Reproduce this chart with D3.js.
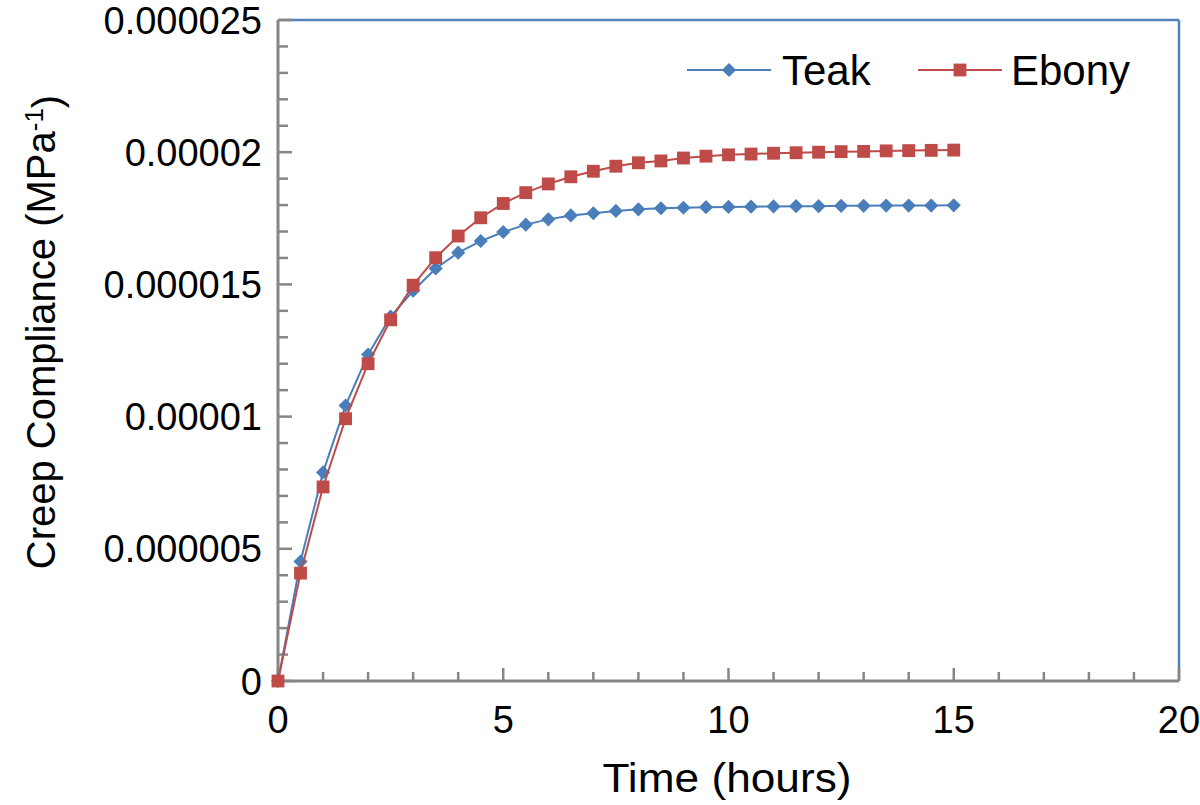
<!DOCTYPE html>
<html>
<head>
  <title>Creep Compliance</title>
  <style>
    body { margin: 0; background: #fff; }
    svg text { font-family: "Liberation Sans", Arial, Helvetica, sans-serif; fill: #000; }
  </style>
  <script src="https://d3js.org/d3.v7.min.js"></script>
</head>
<body>
  <div id="chart"></div>
  <script>
    // time in hours, compliance in MPa^-1
    var hours = [0, 0.5, 1, 1.5, 2, 2.5, 3, 3.5, 4, 4.5, 5, 5.5, 6, 6.5, 7, 7.5,
                 8, 8.5, 9, 9.5, 10, 10.5, 11, 11.5, 12, 12.5, 13, 13.5, 14, 14.5, 15];
    var teak = [0, 4.52, 7.89, 10.42, 12.35, 13.78, 14.76, 15.6, 16.2, 16.64, 16.98, 17.26,
                17.46, 17.61, 17.69, 17.78, 17.84, 17.88, 17.9, 17.92, 17.93, 17.94, 17.95,
                17.96, 17.96, 17.97, 17.97, 17.98, 17.98, 17.98, 17.99].map(function(v) { return v * 1e-6; });
    var ebony = [0, 4.08, 7.34, 9.92, 12.0, 13.66, 14.97, 16.01, 16.83, 17.52, 18.06, 18.47,
                 18.8, 19.07, 19.28, 19.47, 19.6, 19.67, 19.78, 19.85, 19.9, 19.93, 19.96,
                 19.98, 20.0, 20.02, 20.03, 20.05, 20.06, 20.07, 20.08].map(function(v) { return v * 1e-6; });
    var yTickLabels = ["0", "0.000005", "0.00001", "0.000015", "0.00002", "0.000025"];
    var xTickLabels = ["0", "5", "10", "15", "20"];

    var width = 1200, height = 805;
    var margin = { left: 278, right: 21, top: 20, bottom: 124 };
    var plotW = width - margin.left - margin.right;
    var plotH = height - margin.top - margin.bottom;

    var svg = d3.select("#chart").append("svg")
      .attr("width", width)
      .attr("height", height);

    var g = svg.append("g")
      .attr("transform", "translate(" + margin.left + "," + margin.top + ")");

    var x = d3.scaleLinear().domain([0, 20]).range([0, plotW]);
    var y = d3.scaleLinear().domain([0, 0.000025]).range([plotH, 0]);

    // blue frame on top and right
    g.append("line").attr("x1", 0).attr("x2", plotW).attr("y1", 0).attr("y2", 0)
      .attr("stroke", "#4f81bd").attr("stroke-width", 2.5);
    g.append("line").attr("x1", plotW).attr("x2", plotW).attr("y1", 0).attr("y2", plotH)
      .attr("stroke", "#4f81bd").attr("stroke-width", 2.5);

    // minor and major ticks, drawn inward
    var gray = "#868686";
    var xMinor = d3.range(0, 21, 1);
    g.selectAll(".xtick").data(xMinor).enter().append("line")
      .attr("x1", function(d) { return x(d); })
      .attr("x2", function(d) { return x(d); })
      .attr("y1", plotH)
      .attr("y2", function(d) { return plotH - (d % 5 === 0 ? 13 : 9); })
      .attr("stroke", gray).attr("stroke-width", 2.5);

    var yMinor = d3.range(0, 26, 1);
    g.selectAll(".ytick").data(yMinor).enter().append("line")
      .attr("x1", 0)
      .attr("x2", function(d) { return d % 5 === 0 ? 14 : 10; })
      .attr("y1", function(d) { return y(d * 1e-6); })
      .attr("y2", function(d) { return y(d * 1e-6); })
      .attr("stroke", gray).attr("stroke-width", 2.5);

    // axis lines
    g.append("line").attr("x1", 0).attr("x2", 0).attr("y1", 0).attr("y2", plotH)
      .attr("stroke", gray).attr("stroke-width", 3);
    g.append("line").attr("x1", 0).attr("x2", plotW).attr("y1", plotH).attr("y2", plotH)
      .attr("stroke", gray).attr("stroke-width", 3);

    // tick labels
    g.selectAll(".ylab").data(yTickLabels).enter().append("text")
      .attr("x", -16)
      .attr("y", function(d, i) { return y(i * 5e-6); })
      .attr("dy", "0.36em")
      .attr("text-anchor", "end")
      .style("font-size", "38px")
      .text(function(d) { return d; });

    g.selectAll(".xlab").data(xTickLabels).enter().append("text")
      .attr("x", function(d) { return x(+d); })
      .attr("y", plotH + 52)
      .attr("text-anchor", "middle")
      .style("font-size", "38px")
      .text(function(d) { return d; });

    // axis titles
    g.append("text")
      .attr("x", 727 - margin.left)
      .attr("y", plotH + 111)
      .attr("text-anchor", "middle")
      .attr("textLength", 249)
      .attr("lengthAdjust", "spacingAndGlyphs")
      .style("font-size", "41px")
      .text("Time (hours)");

    var yTitle = svg.append("text")
      .attr("transform", "translate(55,332) rotate(-90)")
      .attr("text-anchor", "middle")
      .style("font-size", "40px");
    yTitle.append("tspan").text("Creep Compliance (MPa");
    yTitle.append("tspan").attr("dy", "-0.45em").style("font-size", "26px").text("-1");
    yTitle.append("tspan").attr("dy", "0.45em").text(")");

    // series: diamonds are squares turned by 45 degrees
    var series = [
      { name: "Teak", values: teak, color: "#4a7ebb", rot: 45, size: 100 },
      { name: "Ebony", values: ebony, color: "#be4b48", rot: 0, size: 165 }
    ];

    var line = d3.line()
      .x(function(d) { return x(d[0]); })
      .y(function(d) { return y(d[1]); });

    series.forEach(function(s) {
      var pts = hours.map(function(h, i) { return [h, s.values[i]]; });
      g.append("path")
        .datum(pts)
        .attr("fill", "none")
        .attr("stroke", s.color)
        .attr("stroke-width", 2)
        .attr("d", line);
      g.selectAll(null).data(pts).enter().append("path")
        .attr("transform", function(d) {
          return "translate(" + x(d[0]) + "," + y(d[1]) + ") rotate(" + s.rot + ")";
        })
        .attr("d", d3.symbol().type(d3.symbolSquare).size(s.size))
        .attr("fill", s.color);
    });

    // legend
    var legend = svg.append("g");
    var legendPos = [{ x: 687, tx: 782 }, { x: 918, tx: 1011 }];
    series.forEach(function(s, i) {
      var lx = legendPos[i].x;
      legend.append("line")
        .attr("x1", lx).attr("x2", lx + 84).attr("y1", 70).attr("y2", 70)
        .attr("stroke", s.color).attr("stroke-width", 2);
      legend.append("path")
        .attr("transform", "translate(" + (lx + 42) + ",70) rotate(" + s.rot + ")")
        .attr("d", d3.symbol().type(d3.symbolSquare).size(s.size))
        .attr("fill", s.color);
      legend.append("text")
        .attr("x", legendPos[i].tx)
        .attr("y", 70)
        .attr("dy", "0.36em")
        .style("font-size", "42px")
        .text(s.name);
    });
  </script>
</body>
</html>
